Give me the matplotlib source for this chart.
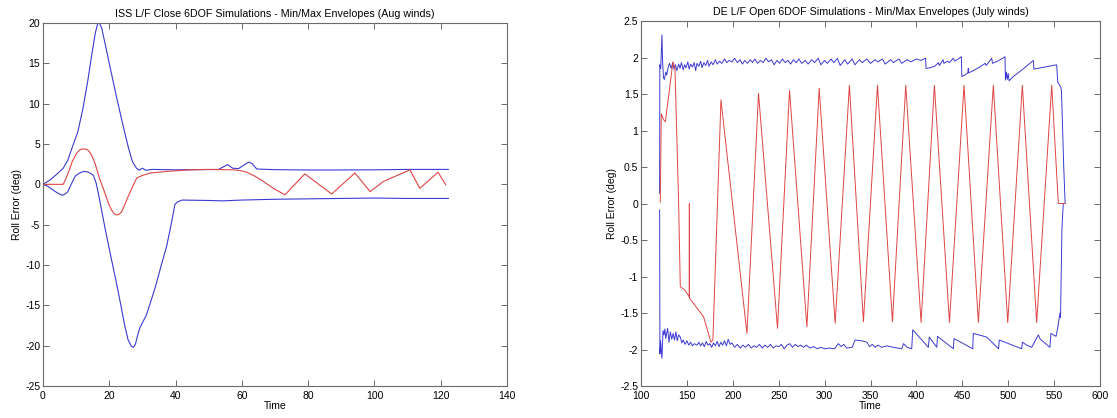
import matplotlib
matplotlib.use("Agg")
import matplotlib.pyplot as plt
from matplotlib.ticker import FuncFormatter

plt.rcParams["font.family"] = ["Liberation Sans", "DejaVu Sans"]
plt.rcParams["font.size"] = 7.5

BLUE = "#3a3ad2"
RED = "#e04444"

# ISS L/F Close (Aug winds)
iss_max_t = [0, 2, 4, 6.1, 7.5, 9, 10.5, 12, 13.5, 14.8, 15.8, 16.5, 17.0, 17.7, 18.8, 20.2,
             22.2, 24.2, 25.8, 27.0, 28.2, 29.0, 30.0, 31.0, 33, 40, 48, 53, 55.7, 57.2, 59,
             62, 63, 64.5, 70, 80, 90, 100, 110, 122.3]
iss_max_v = [0, 0.5, 1.2, 2.0, 3.0, 4.8, 6.5, 9.3, 12.8, 16.3, 18.8, 19.9, 20.0, 19.4, 17.3, 14.6,
             10.8, 7.2, 4.5, 2.8, 2.0, 1.75, 2.0, 1.75, 1.85, 1.8, 1.82, 1.85, 2.45, 2.0, 1.95,
             2.75, 2.6, 1.9, 1.82, 1.78, 1.78, 1.8, 1.85, 1.85]

iss_min_t = [0, 1.5, 3, 4.5, 5.8, 6.7, 7.5, 8.5, 9.7, 10.8, 12.2, 13.4, 14.2, 15.2, 16.0, 16.7,
             18.7, 20.5, 22.2, 23.5, 24.7, 25.7, 26.7, 27.3, 27.9, 28.5, 29.2, 30.2, 31.2, 32.7,
             34.2, 35.7, 37.3, 38.5, 39.3, 39.8, 40.5, 42, 50, 54, 60, 70, 80, 90, 100, 110, 122.3]
iss_min_v = [0, -0.25, -0.7, -1.1, -1.35, -1.2, -0.9, 0.0, 1.0, 1.35, 1.6, 1.55, 1.4, 1.1, 0.2, -1.1,
             -5.4, -9.0, -12.3, -15.0, -17.6, -19.3, -20.1, -20.2, -19.8, -18.8, -17.8, -17.0, -16.2, -14.3,
             -12.3, -10.0, -7.7, -5.3, -3.6, -2.5, -2.2, -1.95, -2.0, -2.05, -1.95, -1.85, -1.8, -1.75,
             -1.7, -1.75, -1.75]

iss_mid_t = [0, 6.1, 6.8, 7.6, 8.8, 10.2, 11.2, 12.0, 13.0, 13.7, 14.7, 15.7, 16.5, 17.2, 18.0,
             18.7, 19.7, 20.7, 21.5, 22.2, 23.0, 23.7, 24.7, 25.7, 27.0, 28.3, 30.0, 32.3, 37.3,
             44.4, 49.4, 57.4, 59.5, 61.5, 64.0, 66.5, 69.5, 73, 79, 87.1, 94.1, 98.7, 102.7,
             110.7, 113.7, 119.2, 121.5]
iss_mid_v = [0, 0.0, 0.6, 1.4, 2.8, 3.9, 4.3, 4.4, 4.35, 4.2, 3.6, 2.6, 1.5, 0.55, -0.3,
             -1.1, -2.3, -3.2, -3.65, -3.8, -3.7, -3.4, -2.5, -1.5, -0.3, 0.8, 1.1, 1.4, 1.6,
             1.8, 1.85, 1.8, 1.7, 1.5, 1.0, 0.35, -0.5, -1.3, 1.3, -1.2, 1.4, -0.9, 0.35,
             1.8, -0.5, 1.5, -0.06]

# DE L/F Open (July winds)
de_max_t = [120.3, 120.5, 121.5, 122.8, 123.5, 124.5, 125.5, 127.0, 128.0, 129.5, 131.0, 133.0,
            134.5, 136.0, 137.5, 139.0, 141.0, 142.5, 144.0, 146.0, 147.5, 149.0, 151.0, 152.5,
            154.0, 156.0, 158.0, 159.5, 161.0, 163.0, 165.0, 166.5, 168.5, 170.5, 172.5, 174.0,
            176.5, 178.5, 181.0, 183.0, 185.5, 188.0, 191.0, 193.5, 196.0, 199.0, 202.0, 205.0,
            208.0, 210.5, 213.0, 216.0, 219.0, 221.5, 224.0, 227.0, 230.0, 233.0, 236.0, 239.0,
            242.0, 245.0, 248.0, 251.0, 254.0, 257.0, 260.0, 263.0, 266.0, 269.0, 272.0, 275.0,
            279.0, 282.0, 286.0, 289.0, 293.0, 296.0, 300.0, 303.0, 307.0, 310.0, 314.0, 317.0,
            322.0, 325.0, 330.0, 333.0, 338.0, 341.0, 346.0, 350.0, 355.0, 358.0, 363.0, 366.0,
            372.0, 375.0, 381.0, 384.0, 390.0, 394.0, 400.0, 405.0, 410.0, 410.5, 415.0, 420.0,
            424.0, 425.0, 429.0, 430.0, 434.0, 436.0, 440.0, 442.0, 449.0, 449.5, 453.0, 456.0,
            456.5, 457.0, 462.0, 469.0, 475.0, 476.0, 482.0, 483.0, 490.0, 496.5, 497.0, 498.0,
            499.0, 500.0, 501.0, 505.6, 516.0, 527.4, 528.0, 540.0, 552.8, 554.0, 556.0, 557.0,
            558.0, 560.5, 562.0]
de_max_v = [0.14, 1.90, 1.85, 2.31, 1.95, 1.72, 1.70, 1.80, 1.76, 1.86, 1.92, 1.85,
            1.93, 1.84, 1.90, 1.82, 1.91, 1.85, 1.93, 1.83, 1.90, 1.86, 1.94, 1.84,
            1.91, 1.87, 1.93, 1.82, 1.92, 1.88, 1.95, 1.86, 1.93, 1.89, 1.96, 1.88,
            1.94, 1.90, 1.97, 1.91, 1.95, 1.92, 1.98, 1.93, 1.96, 1.94, 1.99, 1.93,
            1.97, 1.91, 1.96, 1.92, 1.97, 1.93, 1.98, 1.92, 1.96, 1.93, 1.99, 1.94,
            1.97, 1.90, 1.96, 1.92, 1.98, 1.93, 1.96, 1.91, 1.97, 1.93, 1.98, 1.92,
            1.96, 1.91, 1.97, 1.93, 1.99, 1.90, 1.96, 1.92, 1.98, 1.93, 1.99, 1.89,
            1.97, 1.91, 1.98, 1.90, 1.97, 1.93, 1.98, 1.92, 1.97, 1.94, 1.98, 1.91,
            1.97, 1.93, 1.98, 1.92, 1.97, 1.94, 1.98, 1.96, 1.99, 1.85, 1.86, 1.88,
            1.93, 1.89, 1.97, 1.92, 1.95, 1.93, 1.99, 1.95, 2.01, 1.74, 1.76, 1.79,
            1.85, 1.79, 1.82, 1.87, 1.92, 1.89, 1.99, 1.92, 1.96, 2.01, 1.69, 1.80,
            1.70, 1.78, 1.68, 1.74, 1.84, 1.96, 1.84, 1.87, 1.90, 1.66, 1.62, 1.60,
            1.55, 0.5, 0.0]

de_min_t = [120.3, 120.6, 121.3, 122.8, 124.0, 125.0, 126.0, 127.0, 128.0, 129.0, 130.5, 132.0,
            133.5, 135.0, 136.5, 138.0, 139.5, 141.0, 142.8, 144.5, 146.0, 148.0, 150.0, 152.0,
            154.0, 156.0, 158.0, 161.0, 163.0, 165.0, 167.0, 169.0, 171.0, 173.0, 175.0, 177.0,
            179.0, 181.0, 183.0, 185.0, 187.0, 189.0, 191.0, 193.0, 195.0, 197.0, 199.0, 202.0,
            205.0, 208.0, 211.0, 214.0, 217.0, 220.0, 223.0, 226.0, 229.0, 232.0, 235.0, 238.0,
            241.0, 244.0, 247.0, 250.0, 253.0, 256.0, 259.0, 262.0, 265.0, 268.0, 271.0, 274.0,
            277.0, 280.0, 284.0, 288.0, 292.0, 296.0, 300.0, 305.0, 310.8, 315.0, 318.0, 321.0,
            324.0, 330.0, 333.2, 340.0, 346.0, 349.0, 352.0, 355.0, 358.0, 362.0, 368.0, 375.0,
            384.0, 386.0, 390.0, 394.9, 396.0, 413.0, 414.0, 422.2, 423.0, 440.3, 441.0, 461.4,
            462.0, 476.6, 489.5, 490.3, 514.7, 515.5, 520.0, 525.6, 532.8, 535.0, 545.5, 546.5,
            552.1, 554.0, 556.4, 557.0, 558.5, 559.0, 560.0]
de_min_v = [-0.09, -2.06, -1.88, -2.12, -1.74, -1.80, -1.72, -1.85, -1.78, -1.71, -1.90, -1.76,
            -1.86, -1.78, -1.87, -1.76, -1.88, -1.80, -1.83, -1.91, -1.87, -1.93, -1.88, -1.94,
            -1.90, -1.95, -1.92, -1.94, -1.90, -1.95, -1.91, -1.96, -1.89, -1.94, -1.92, -1.97,
            -1.91, -1.95, -1.89, -1.96, -1.90, -1.94, -1.88, -1.95, -1.86, -1.93, -1.91, -1.97,
            -1.93, -1.98, -1.94, -1.97, -1.93, -1.98, -1.95, -1.97, -1.93, -1.98, -1.94, -1.97,
            -1.93, -1.98, -1.95, -1.96, -1.93, -1.99, -1.94, -1.92, -1.97, -1.93, -1.96, -1.94,
            -1.97, -1.94, -1.98, -1.96, -1.99, -1.97, -1.99, -1.98, -1.99, -1.92, -1.96, -1.93,
            -1.98, -1.97, -1.87, -1.88, -1.90, -1.96, -1.93, -1.97, -1.94, -1.97, -1.95, -1.97,
            -1.99, -1.92, -1.97, -1.99, -1.73, -1.97, -1.83, -1.97, -1.82, -1.99, -1.85, -1.99,
            -1.78, -1.83, -1.99, -1.87, -1.99, -1.90, -1.94, -1.97, -1.80, -1.86, -1.97, -1.78,
            -1.82, -1.70, -1.50, -1.56, -0.37, -0.23, 0.0]

de_mid_t = [121.0, 122.1, 124.5, 126.5, 130.0, 134.8, 137.0, 141.0, 142.8, 146.0, 148.2, 152.5,
            152.7, 152.8, 157.3, 162.0, 168.1, 176.2, 178.3, 187.1, 215.4, 228.0, 248.7, 261.8,
            280.7, 294.1, 311.5, 327.0, 342.3, 357.6, 373.9, 388.4, 405.1, 419.6, 436.0, 451.9,
            467.5, 483.8, 499.5, 515.4, 531.0, 547.4, 554.6, 561.9]
de_mid_v = [0.02, 1.23, 1.15, 1.12, 1.46, 1.94, 1.85, 0.0, -1.14, -1.17, -1.19, -1.28,
            0.0, -1.30, -1.37, -1.45, -1.55, -1.90, -1.87, 1.42, -1.78, 1.51, -1.71, 1.55,
            -1.69, 1.58, -1.64, 1.62, -1.62, 1.62, -1.62, 1.62, -1.63, 1.62, -1.63, 1.62,
            -1.63, 1.62, -1.63, 1.62, -1.63, 1.62, 0.0, 0.0]

W, H = 1117, 418
fig = plt.figure(figsize=(W / 100, H / 100), dpi=100)
ax1 = fig.add_axes([43 / W, 1 - 386 / H, 464 / W, 363 / H])
ax2 = fig.add_axes([641 / W, 1 - 386 / H, 459 / W, 365 / H])


def style_axes(ax):
    for s in ax.spines.values():
        s.set_color("#6a6a6a")
        s.set_linewidth(0.8)
    ax.tick_params(direction="in", length=4, width=0.7, color="#6a6a6a",
                   top=True, right=True, labelsize=7.5, pad=2)
    ax.tick_params(axis="x", pad=3.5)
    ax.yaxis.set_major_formatter(FuncFormatter(lambda v, p: "%g" % round(v, 2)))
    ax.set_xlabel("Time", labelpad=0)
    ax.set_ylabel("Roll Error (deg)", labelpad=2)


ax1.plot(iss_max_t, iss_max_v, color=BLUE, lw=0.8)
ax1.plot(iss_min_t, iss_min_v, color=BLUE, lw=0.8)
ax1.plot(iss_mid_t, iss_mid_v, color=RED, lw=0.8)
ax1.set_xlim(0, 140)
ax1.set_ylim(-25, 20)
ax1.set_xticks(range(0, 141, 20))
ax1.set_yticks(range(-25, 21, 5))
ax1.set_title("ISS L/F Close 6DOF Simulations - Min/Max Envelopes (Aug winds)", fontsize=7.7, pad=4)
style_axes(ax1)

ax2.plot(de_max_t, de_max_v, color=BLUE, lw=0.7)
ax2.plot(de_min_t, de_min_v, color=BLUE, lw=0.7)
ax2.plot(de_mid_t, de_mid_v, color=RED, lw=0.7)
ax2.set_xlim(100, 600)
ax2.set_ylim(-2.5, 2.5)
ax2.set_xticks(range(100, 601, 50))
ax2.set_yticks([-2.5, -2, -1.5, -1, -0.5, 0, 0.5, 1, 1.5, 2, 2.5])
ax2.set_title("DE L/F Open 6DOF Simulations - Min/Max Envelopes (July winds)", fontsize=7.7, pad=4)
style_axes(ax2)

fig.savefig("out.png", dpi=100)
